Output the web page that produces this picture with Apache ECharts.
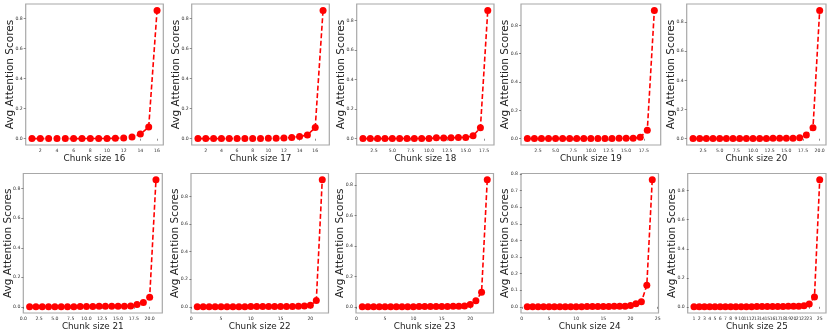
<!DOCTYPE html>
<html>
<head>
<meta charset="utf-8">
<script src="https://cdn.jsdelivr.net/npm/echarts@6/dist/echarts.min.js"></script>
<style>
  html, body { margin: 0; padding: 0; background: #fff; }
  #chart { width: 830px; height: 332px; }
</style>
</head>
<body>
<div id="chart"></div>
<script>
// Avg attention per chunk position, one array per chunk size
const chunk16 = [0.001, 0.001, 0.001, 0.001, 0.001, 0.001, 0.001, 0.002, 0.002, 0.002, 0.003, 0.005, 0.011, 0.031, 0.078, 0.855];
const chunk17 = [0.001, 0.001, 0.001, 0.001, 0.001, 0.001, 0.001, 0.002, 0.002, 0.003, 0.003, 0.005, 0.008, 0.015, 0.025, 0.075, 0.855];
const chunk18 = [0.001, 0.001, 0.001, 0.001, 0.001, 0.002, 0.002, 0.002, 0.002, 0.002, 0.006, 0.005, 0.006, 0.008, 0.009, 0.02, 0.075, 0.87];
const chunk19 = [0.001, 0.001, 0.001, 0.001, 0.001, 0.001, 0.001, 0.001, 0.001, 0.002, 0.002, 0.002, 0.002, 0.003, 0.003, 0.004, 0.01, 0.06, 0.905];
const chunk20 = [0.001, 0.001, 0.001, 0.001, 0.001, 0.001, 0.001, 0.002, 0.002, 0.002, 0.002, 0.002, 0.003, 0.003, 0.004, 0.004, 0.006, 0.025, 0.075, 0.88];
const chunk21 = [0.001, 0.001, 0.001, 0.001, 0.001, 0.001, 0.001, 0.001, 0.002, 0.002, 0.002, 0.003, 0.003, 0.004, 0.004, 0.004, 0.005, 0.015, 0.03, 0.065, 0.86];
const chunk22 = [0.001, 0.001, 0.001, 0.001, 0.001, 0.001, 0.001, 0.001, 0.001, 0.002, 0.002, 0.002, 0.002, 0.002, 0.003, 0.003, 0.003, 0.004, 0.005, 0.012, 0.045, 0.92];
const chunk23 = [0.001, 0.001, 0.001, 0.001, 0.001, 0.001, 0.001, 0.001, 0.001, 0.001, 0.002, 0.002, 0.002, 0.002, 0.002, 0.002, 0.003, 0.003, 0.005, 0.015, 0.04, 0.095, 0.835];
const chunk24 = [0.001, 0.001, 0.001, 0.001, 0.001, 0.001, 0.001, 0.001, 0.001, 0.001, 0.001, 0.002, 0.002, 0.002, 0.002, 0.002, 0.003, 0.003, 0.004, 0.008, 0.018, 0.03, 0.13, 0.765];
const chunk25 = [0.001, 0.001, 0.001, 0.001, 0.001, 0.001, 0.001, 0.001, 0.001, 0.001, 0.001, 0.001, 0.002, 0.002, 0.002, 0.002, 0.002, 0.002, 0.003, 0.003, 0.004, 0.008, 0.02, 0.068, 0.875];

const chunkSizes = [16, 17, 18, 19, 20, 21, 22, 23, 24, 25];
const seriesValues = [chunk16, chunk17, chunk18, chunk19, chunk20, chunk21, chunk22, chunk23, chunk24, chunk25];

// x tick labels per panel (matplotlib auto ticks)
const xTicks16 = ['2', '4', '6', '8', '10', '12', '14', '16'];
const xTicks17 = ['2', '4', '6', '8', '10', '12', '14', '16'];
const xTicks18 = ['2.5', '5.0', '7.5', '10.0', '12.5', '15.0', '17.5'];
const xTicks19 = ['2.5', '5.0', '7.5', '10.0', '12.5', '15.0', '17.5'];
const xTicks20 = ['2.5', '5.0', '7.5', '10.0', '12.5', '15.0', '17.5', '20.0'];
const xTicks21 = ['0.0', '2.5', '5.0', '7.5', '10.0', '12.5', '15.0', '17.5', '20.0'];
const xTicks22 = ['0', '5', '10', '15', '20'];
const xTicks23 = ['0', '5', '10', '15', '20'];
const xTicks24 = ['0', '5', '10', '15', '20', '25'];
const xTicks25 = ['1', '2', '3', '4', '5', '6', '7', '8', '9', '10', '11', '12', '13', '14', '15', '16', '17', '18', '19', '20', '21', '22', '23', '24', '25'];
const xTickLabels = [xTicks16, xTicks17, xTicks18, xTicks19, xTicks20, xTicks21, xTicks22, xTicks23, xTicks24, xTicks25];

// y tick labels
const yTicksDefault = ['0.0', '0.2', '0.4', '0.6', '0.8'];
const yTicks24 = ['0.0', '0.1', '0.2', '0.3', '0.4', '0.5', '0.6', '0.7', '0.8'];

// panel frames [left, top, width, height]
const frames = [
  [25.7, 4, 137.6, 141], [191.7, 4, 137.6, 141], [356.7, 4, 137.3, 141], [521, 4, 139.7, 141], [686.7, 4, 139.3, 141],
  [23.3, 173.5, 139, 141.5], [191, 173.5, 137.5, 141.5], [356, 173.5, 137.5, 141.5], [521, 173.5, 137.5, 141.5], [687.7, 173.5, 138.3, 141.5]
];

const FONT = 'DejaVu Sans';

// matplotlib style 5% margins
const padRange = (lo, hi) => {
  const m = (hi - lo) * 0.05;
  return [lo - m, hi + m];
};

const grids = [];
const xAxes = [];
const yAxes = [];
const series = [];

chunkSizes.forEach((size, i) => {
  const vals = seriesValues[i];
  const [x0, x1] = padRange(1, vals.length);
  const [y0, y1] = padRange(Math.min(...vals), Math.max(...vals));
  const yLabels = size === 24 ? yTicks24 : yTicksDefault;
  const f = frames[i];

  grids.push({
    left: f[0], top: f[1], width: f[2], height: f[3],
    show: true, borderColor: '#a8a8a8', borderWidth: 1.2, backgroundColor: '#fff'
  });

  xAxes.push({
    type: 'value', gridIndex: i, min: x0, max: x1,
    name: 'Chunk size ' + size, nameLocation: 'middle', nameGap: 9,
    nameTextStyle: { fontFamily: FONT, fontSize: 8.8, color: '#222' },
    axisLine: { show: false },
    axisTick: { show: true, length: 2, lineStyle: { color: '#444', width: 0.6 },
      customValues: xTickLabels[i].map(Number) },
    axisLabel: { fontFamily: FONT, fontSize: 4.6, color: '#333', margin: 3, hideOverlap: false,
      showMinLabel: true, showMaxLabel: true,
      customValues: xTickLabels[i].map(Number),
      formatter: (v) => xTickLabels[i].find(s => Number(s) === v) || '' },
    splitLine: { show: false }
  });

  yAxes.push({
    type: 'value', gridIndex: i, min: y0, max: y1,
    name: 'Avg Attention Scores', nameLocation: 'middle', nameGap: 10, nameMoveOverlap: false,
    nameTextStyle: { fontFamily: FONT, fontSize: 10.5, color: '#222' },
    axisLine: { show: false },
    axisTick: { show: true, length: 2, lineStyle: { color: '#444', width: 0.6 },
      customValues: yLabels.map(Number) },
    axisLabel: { fontFamily: FONT, fontSize: 4.6, color: '#333', margin: 3,
      customValues: yLabels.map(Number),
      formatter: (v) => yLabels.find(s => Number(s) === v) || '' },
    splitLine: { show: false }
  });

  series.push({
    type: 'line', xAxisIndex: i, yAxisIndex: i,
    data: vals.map((v, k) => [k + 1, v]),
    symbol: 'circle', symbolSize: 7,
    itemStyle: { color: '#ff0000' },
    lineStyle: { color: '#ff0000', width: 1.6, type: [5, 2.5] },
    animation: false
  });
});

const chart = echarts.init(document.getElementById('chart'));
chart.setOption({
  animation: false,
  backgroundColor: '#fff',
  grid: grids,
  xAxis: xAxes,
  yAxis: yAxes,
  series: series
});
</script>
</body>
</html>
